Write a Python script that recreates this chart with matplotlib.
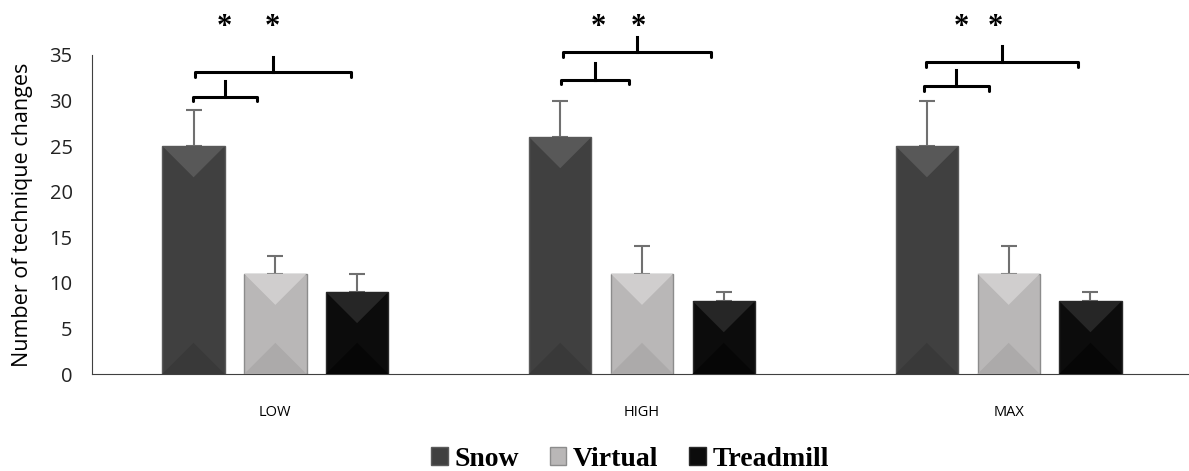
import numpy as np
import matplotlib
matplotlib.use('Agg')
import matplotlib.pyplot as plt
from matplotlib.patches import Polygon

# 데이터
categories = ['LOW', 'HIGH', 'MAX']
series = ['Snow', 'Virtual', 'Treadmill']
snow = [25, 26, 25]
virtual = [11, 11, 11]
treadmill = [9, 8, 8]
snow_err = [4, 4, 5]
virtual_err = [2, 3, 3]
treadmill_err = [2, 1, 1]

# 유의성 괄호 (x 시작, x 끝, 높이, 꼭지 높이) - 그룹 중심 기준 오프셋
small_brackets = [(-0.225, -0.05, 30.4, 32.2), (-0.22, -0.035, 32.3, 34.1), (-0.23, -0.055, 31.6, 33.3)]
large_brackets = [(-0.218, 0.207, 33.1, 34.8), (-0.215, 0.188, 35.3, 37.0), (-0.225, 0.19, 34.2, 36.0)]
star_x = [(-0.14, -0.008), (-0.12, -0.01), (-0.13, -0.037)]
star_y = 38.0

colors = ['#404040', '#b9b7b7', '#0c0c0c']
top_colors = ['#585858', '#d0cece', '#262626']
bot_colors = ['#393939', '#acaaaa', '#060606']
edge_colors = ['#5a5a5a', '#8c8c8c', '#2a2a2a']

fig = plt.figure(figsize=(11.89, 4.71), dpi=100)
ax = fig.add_axes([92 / 1189, 97 / 471, 1100 / 1189, 319 / 471])

x = np.arange(len(categories))
width = 0.17
step = 0.223
values = [snow, virtual, treadmill]
errs = [snow_err, virtual_err, treadmill_err]

ax.set_xlim(-0.5, 2.5)
ax.set_ylim(0, 35)

bar_groups = []
for i in range(3):
    bars = ax.bar(x + (i - 1) * step, values[i], width, color=colors[i],
                  edgecolor=edge_colors[i], linewidth=1, label=series[i], zorder=2)
    ax.errorbar(x + (i - 1) * step, values[i], yerr=[np.zeros(3), errs[i]], fmt='none',
                ecolor='#707070', elinewidth=1.5, capsize=6, capthick=1.5, zorder=1)
    bar_groups.append(bars)

# 막대 베벨 효과 (위/아래 삼각형)
fig.canvas.draw()
px_per_x = ax.transData.transform((1, 0))[0] - ax.transData.transform((0, 0))[0]
px_per_y = ax.transData.transform((0, 1))[1] - ax.transData.transform((0, 0))[1]
for i, bars in enumerate(bar_groups):
    for b in bars:
        x0, w, h = b.get_x(), b.get_width(), b.get_height()
        depth = (w * px_per_x / 2) / px_per_y
        top = Polygon([(x0, h), (x0 + w, h), (x0 + w / 2, h - depth)], closed=True,
                      facecolor=top_colors[i], edgecolor='none', zorder=3)
        bot = Polygon([(x0, 0), (x0 + w, 0), (x0 + w / 2, depth)], closed=True,
                      facecolor=bot_colors[i], edgecolor='none', zorder=3)
        ax.add_patch(top)
        ax.add_patch(bot)

# 유의성 괄호
hook = 0.5
for g in range(3):
    for (a, b, y, yt) in [small_brackets[g], large_brackets[g]]:
        xa, xb = g + a, g + b
        ax.plot([xa, xa, xb, xb], [y - hook, y, y, y - hook], color='black', lw=2.2,
                clip_on=False, solid_capstyle='round', solid_joinstyle='round')
        xm = (xa + xb) / 2
        ax.plot([xm, xm], [y, yt], color='black', lw=2.2, clip_on=False)
    for sx in star_x[g]:
        ax.text(g + sx, star_y, '*', ha='center', va='center', fontsize=22,
                fontweight='bold', family='Liberation Serif', clip_on=False)

ax.spines['top'].set_visible(False)
ax.spines['right'].set_visible(False)
ax.spines['left'].set_color('#404040')
ax.spines['bottom'].set_color('#404040')
ax.set_xticks(x)
ax.set_xticklabels(categories, fontsize=10.5, family='Open Sans')
ax.set_yticks(range(0, 36, 5))
ax.tick_params(axis='y', length=0, labelsize=14.5, pad=14, colors='#222222')
ax.tick_params(axis='x', length=0, pad=22)
for lbl in ax.get_yticklabels():
    lbl.set_family('Open Sans')
ax.set_ylabel('Number of technique changes', fontsize=15.5, family='Open Sans', labelpad=12)

fig.legend(handles=bar_groups, labels=series, loc='lower center', bbox_to_anchor=(0.53, -0.055),
           ncol=3, frameon=False, handlelength=0.6, handleheight=0.6, handletextpad=0.25,
           columnspacing=1.1, prop={'family': 'Liberation Serif', 'weight': 'bold', 'size': 20})

fig.savefig('out.png', dpi=100)
